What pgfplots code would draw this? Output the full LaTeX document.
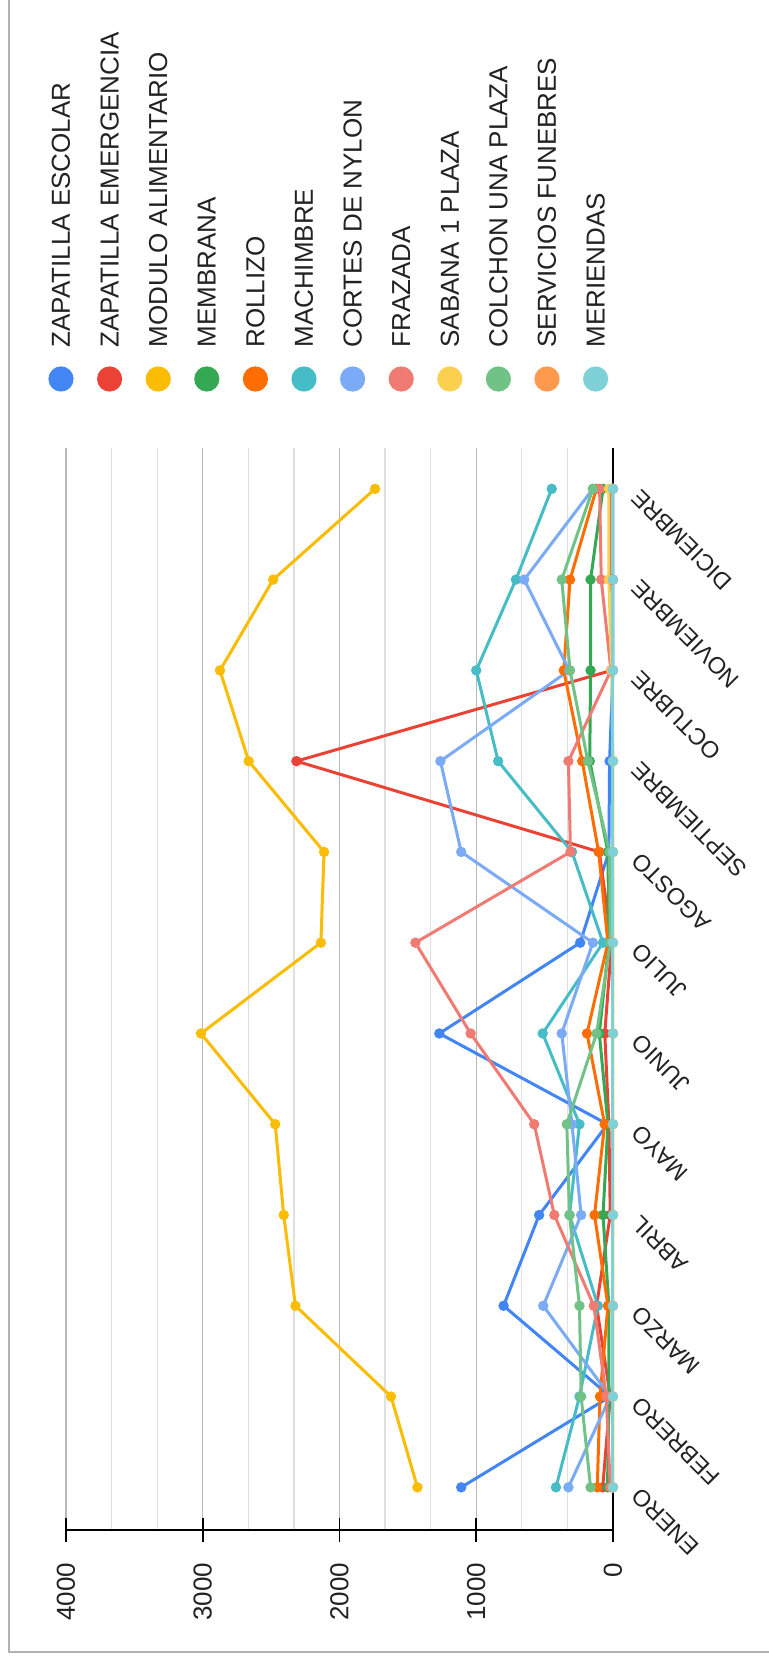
\documentclass[border=0pt]{standalone}
\usepackage{fontspec}
\setmainfont{Liberation Sans}
\usepackage{pgfplots}
\pgfplotsset{compat=1.18}
\definecolor{c1}{HTML}{4285F4}
\definecolor{c2}{HTML}{EA4335}
\definecolor{c3}{HTML}{FBBC04}
\definecolor{c4}{HTML}{34A853}
\definecolor{c5}{HTML}{FF6D01}
\definecolor{c6}{HTML}{46BDC6}
\definecolor{c7}{HTML}{7BAAF7}
\definecolor{c8}{HTML}{F07B72}
\definecolor{c9}{HTML}{FCD04F}
\definecolor{c10}{HTML}{71C287}
\definecolor{c11}{HTML}{FF994D}
\definecolor{c12}{HTML}{7ED1D7}
\definecolor{txt}{HTML}{222222}
\begin{document}
\begin{tikzpicture}
\useasboundingbox (0,0) rectangle (384pt,833pt);
\fill[white] (0,0) rectangle (384pt,833pt);
\draw[gray!60, line width=1pt] (4.5pt,840pt) -- (4.5pt,7pt) -- (390pt,7pt);
\begin{axis}[
  at={(33pt,68pt)}, anchor=south west,
  scale only axis, width=273.5pt, height=541pt,
  x dir=reverse,
  xmin=0, xmax=4000, ymin=-0.47, ymax=11.45,
  clip=false,
  xtick={0,1000,2000,3000,4000},
  minor x tick num=2,
  ytick={0,...,11},
  yticklabels={ENERO,FEBRERO,MARZO,ABRIL,MAYO,JUNIO,JULIO,AGOSTO,SEPTIEMBRE,OCTUBRE,NOVIEMBRE,DICIEMBRE},
  xmajorgrids, xminorgrids,
  major grid style={black!28, line width=0.6pt},
  minor grid style={black!12, line width=0.6pt},
  axis x line*=bottom, axis y line*=right,
  axis line style={-, black, line width=0.8pt},
  tick align=center,
  major tick length=12pt, minor tick length=0pt,
  xtick style={black, line width=0.8pt},
  ytick style={draw=none},
  /pgf/number format/1000 sep={},
  /pgf/number format/assume math mode=true,
  tick label style={font=\fontsize{13}{15}\selectfont, text=txt},
  xticklabel style={rotate=90, anchor=east},
  xticklabel shift=7pt,
  yticklabel style={rotate=135, anchor=east, font=\fontsize{11.7}{14}\selectfont},
  yticklabel shift=3pt,
  every axis plot/.append style={line width=1.5pt, mark=*, mark size=1.8pt},
]
\addplot[c1, mark options={fill=c1}] coordinates {(1110,0) (20,1) (800,2) (540,3) (40,4) (1270,5) (240,6) (30,7) (25,8) (0,9) (0,10) (0,11)};
\addplot[c2, mark options={fill=c2}] coordinates {(75,0) (20,1) (120,2) (20,3) (30,4) (60,5) (10,6) (100,7) (2315,8) (10,9) (10,10) (10,11)};
\addplot[c3, mark options={fill=c3}] coordinates {(1430,0) (1623,1) (2322,2) (2408,3) (2470,4) (3013,5) (2136,6) (2113,7) (2664,8) (2874,9) (2485,10) (1740,11)};
\addplot[c4, mark options={fill=c4}] coordinates {(40,0) (30,1) (30,2) (73,3) (37,4) (100,5) (30,6) (37,7) (170,8) (164,9) (164,10) (73,11)};
\addplot[c5, mark options={fill=c5}] coordinates {(115,0) (95,1) (37,2) (135,3) (61,4) (190,5) (37,6) (105,7) (225,8) (360,9) (314,10) (122,11)};
\addplot[c6, mark options={fill=c6}] coordinates {(417,0) (245,1) (110,2) (318,3) (245,4) (514,5) (73,6) (300,7) (840,8) (1000,9) (710,10) (448,11)};
\addplot[c7, mark options={fill=c7}] coordinates {(326,0) (20,1) (510,2) (233,3) (300,4) (375,5) (147,6) (1110,7) (1262,8) (320,9) (649,10) (147,11)};
\addplot[c8, mark options={fill=c8}] coordinates {(20,0) (49,1) (140,2) (429,3) (576,4) (1041,5) (1445,6) (311,7) (326,8) (15,9) (86,10) (98,11)};
\addplot[c9, mark options={fill=c9}] coordinates {(0,0) (0,1) (0,2) (0,3) (0,4) (0,5) (0,6) (0,7) (0,8) (10,9) (30,10) (30,11)};
\addplot[c10, mark options={fill=c10}] coordinates {(164,0) (233,1) (245,2) (318,3) (338,4) (120,5) (20,6) (25,7) (184,8) (314,9) (375,10) (147,11)};
\addplot[c11, mark options={fill=c11}] coordinates {(0,0) (0,1) (0,2) (0,3) (0,4) (0,5) (0,6) (0,7) (0,8) (0,9) (0,10) (0,11)};
\addplot[c12, mark options={fill=c12}] coordinates {(0,0) (0,1) (0,2) (0,3) (0,4) (0,5) (0,6) (0,7) (0,8) (0,9) (0,10) (0,11)};
\end{axis}
% legend
\foreach \c/\t [count=\i from 0] in {c1/ZAPATILLA ESCOLAR, c2/ZAPATILLA EMERGENCIA, c3/MODULO ALIMENTARIO, c4/MEMBRANA, c5/ROLLIZO, c6/MACHIMBRE, c7/CORTES DE NYLON, c8/FRAZADA, c9/SABANA 1 PLAZA, c10/COLCHON UNA PLAZA, c11/SERVICIOS FUNEBRES, c12/MERIENDAS} {
  \fill[\c] (30.5pt+24.3pt*\i, 643.5pt) circle (6.3pt);
  \node[rotate=90, anchor=west, inner sep=0pt, text=txt, font=\fontsize{13}{15}\selectfont] at (30.5pt+24.3pt*\i, 659pt) {\t};
}
\end{tikzpicture}
\end{document}
